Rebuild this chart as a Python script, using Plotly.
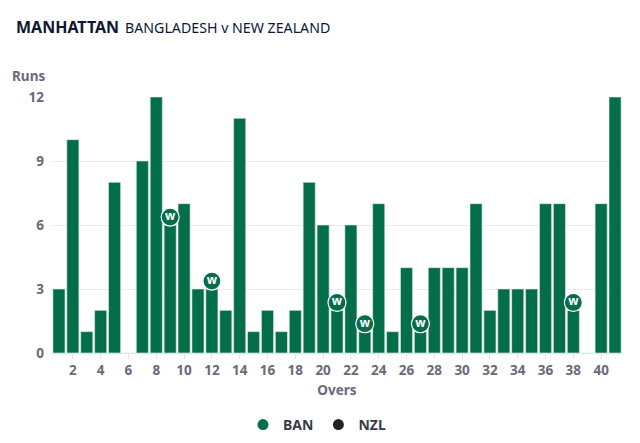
import plotly.graph_objects as go

overs = list(range(1, 42))
ban_runs = [3, 10, 1, 2, 8, 0, 9, 12, 6, 7, 3, 3, 2, 11, 1, 2, 1, 2, 8, 6,
            2, 6, 1, 7, 1, 4, 1, 4, 4, 4, 7, 2, 3, 3, 3, 7, 7, 2, 0, 7, 12]
ban_wicket_overs = [9, 12, 21, 23, 27, 38]
tick_vals = list(range(2, 41, 2))
tick_text = ["<b>%d</b>" % v for v in tick_vals]
y_ticks = [0, 3, 6, 9, 12]
y_text = ["<b>%d</b>" % v for v in y_ticks]

GREEN = "#036E49"
DARK = "#242424"
GRAY = "#6A6A7A"
FONT = "Noto Sans"

# page has 8px body margin; figure sized to fit window
OFF = 8
W, H = 640 - 2 * OFF, 443 - 2 * OFF
L, R, T = 52 - OFF, 640 - 622 - OFF, 97 - OFF
B = H - (353 - OFF)

fig = go.Figure()
fig.add_trace(go.Bar(
    x=overs, y=ban_runs, marker=dict(color=GREEN, line=dict(color="#E3EFE8", width=0.6)),
    showlegend=False, hoverinfo="x+y"))

wk_y = [ban_runs[o - 1] + 0.37 for o in ban_wicket_overs]
fig.add_trace(go.Scatter(
    x=ban_wicket_overs, y=wk_y, mode="markers+text",
    marker=dict(size=18, color=GREEN, line=dict(color="white", width=1.2)),
    text=["<b>w</b>"] * len(ban_wicket_overs), textposition="middle center",
    textfont=dict(color="white", size=12, family=FONT),
    showlegend=False, cliponaxis=False, hoverinfo="skip"))

fig.add_trace(go.Scatter(x=[None], y=[None], mode="markers", name="<b>BAN</b>",
                         marker=dict(size=11, color=GREEN)))
fig.add_trace(go.Scatter(x=[None], y=[None], mode="markers", name="<b>NZL</b>",
                         marker=dict(size=11, color=DARK)))

pw = W - L - R
ph = H - T - B
def px(xp):
    return (xp - OFF - L) / pw
def py(yp):
    return (H - B - (yp - OFF)) / ph

fig.update_layout(
    width=W, height=H,
    margin=dict(l=L, r=R, t=T, b=B, autoexpand=False),
    plot_bgcolor="white", paper_bgcolor="white",
    bargap=0.13,
    font=dict(family=FONT, color=GRAY, size=13),
    xaxis=dict(range=[0.5, 41.5], tickmode="array", tickvals=tick_vals, ticktext=tick_text,
               ticks="outside", ticklen=5, tickcolor="#E3E3E3", showgrid=False,
               showline=True, linecolor="#E6E6E6", zeroline=False,
               tickfont=dict(size=13.5, color=GRAY, family=FONT),
               title=dict(text="<b>Overs</b>", font=dict(size=13.5, color=GRAY), standoff=7)),
    yaxis=dict(range=[0, 12], tickmode="array", tickvals=y_ticks, ticktext=y_text,
               showgrid=True, gridcolor="#EBEBEB", zeroline=False, ticks="",
               tickfont=dict(size=13.5, color=GRAY), ticklabelstandoff=7),
    legend=dict(orientation="h", x=px(243), xanchor="left", y=py(425), yanchor="middle",
                font=dict(size=14, color="#3A3A44"), itemwidth=30, tracegroupgap=0),
)
fig.add_annotation(text="<b>MANHATTAN</b>", x=px(14), y=py(27), xref="paper", yref="paper",
                   xanchor="left", yanchor="middle", showarrow=False,
                   font=dict(size=16, color="#0E1730", family=FONT))
fig.add_annotation(text="BANGLADESH v NEW ZEALAND", x=px(123), y=py(27), xref="paper", yref="paper",
                   xanchor="left", yanchor="middle", showarrow=False,
                   font=dict(size=14.2, color="#0E1730", family=FONT))
fig.add_annotation(text="<b>Runs</b>", x=px(10), y=py(76), xref="paper", yref="paper",
                   xanchor="left", yanchor="middle", showarrow=False,
                   font=dict(size=13.5, color=GRAY, family=FONT))

fig.write_html("out.html")
